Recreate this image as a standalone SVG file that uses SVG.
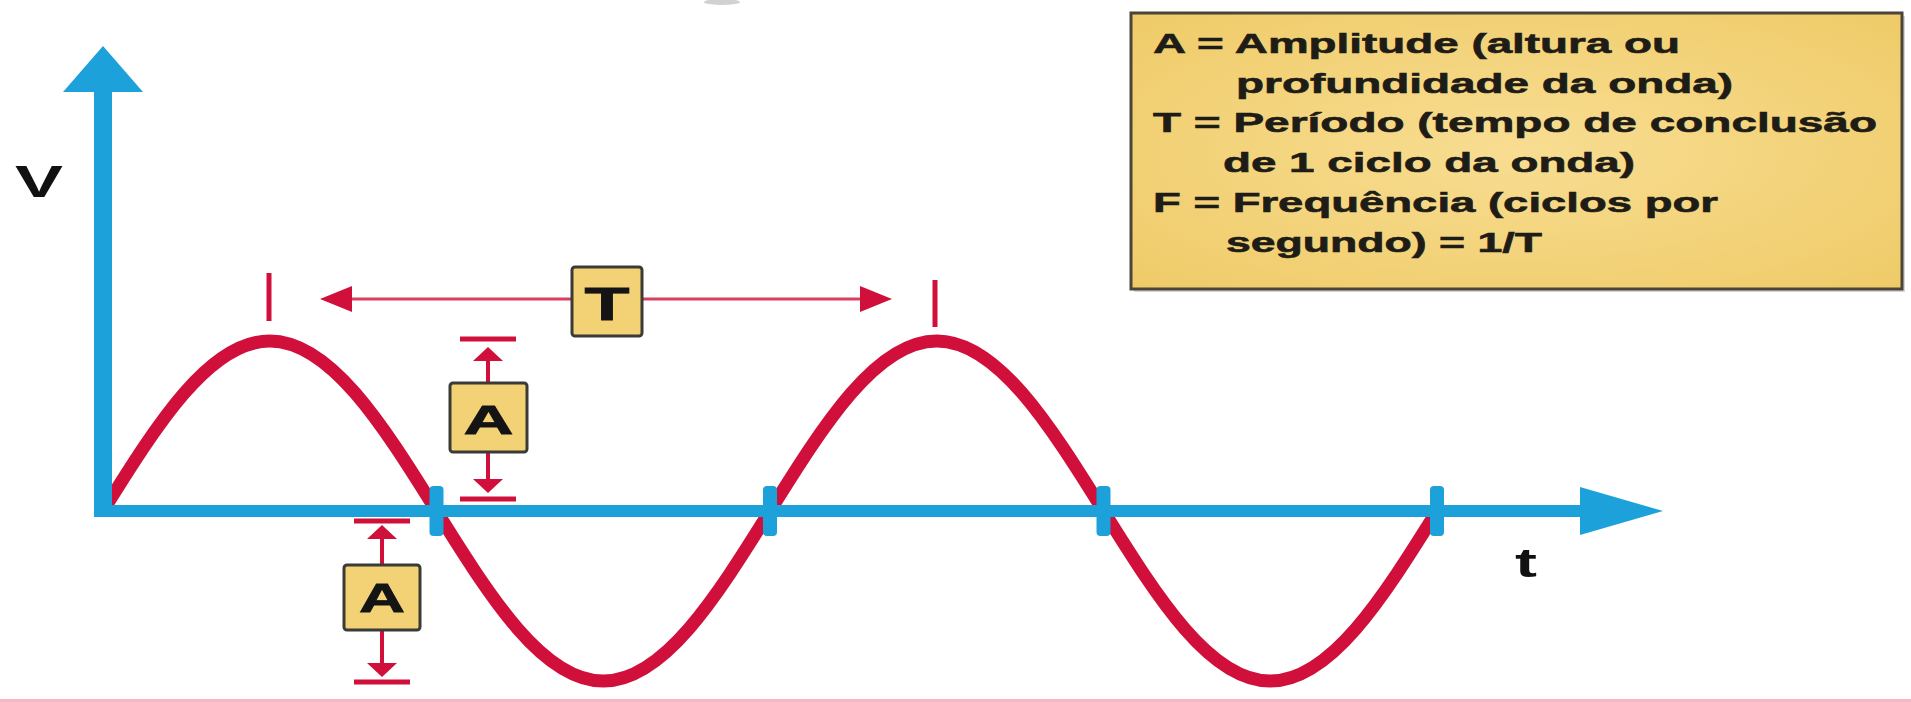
<svg xmlns="http://www.w3.org/2000/svg" width="1911" height="702" viewBox="0 0 1911 702">
  <defs>
    <style>
      .axis { stroke: #1da1db; fill: none; }
      .axisHead { fill: #1da1db; }
      .tickB { fill: #1da1db; }
      .wave { stroke: #d0103a; stroke-width: 13; fill: none; }
      .dim { stroke: #d0103a; stroke-width: 4; fill: none; }
      .bar { stroke: #d0103a; stroke-width: 5; }
      .tline { stroke: #d94060; stroke-width: 3; fill: none; }
      .lbox { fill: #f2d275; stroke: #3a3a36; stroke-width: 3; }
      .lbl { font-family: "Liberation Sans", Arial, sans-serif; font-weight: bold; fill: #141414; text-anchor: middle; stroke: #141414; stroke-width: 0.8; }
      .leg { font-family: "Liberation Sans", Arial, sans-serif; font-weight: bold; font-size: 28px; fill: #1e1c16; stroke: #1e1c16; stroke-width: 0.6; }
      .ax { font-family: "Liberation Sans", Arial, sans-serif; font-weight: bold; fill: #111; }
    </style>
    <marker id="ahV" viewBox="0 -15 14 30" refX="9" refY="0" markerWidth="14" markerHeight="30" markerUnits="userSpaceOnUse" orient="auto">
      <path d="M0,-15 L14,0 L0,15 z" fill="#d0103a"/>
    </marker>
    <marker id="ahT" viewBox="0 -13 32 26" refX="26" refY="0" markerWidth="32" markerHeight="26" markerUnits="userSpaceOnUse" orient="auto">
      <path d="M0,-13 L32,0 L0,13 z" fill="#d0103a"/>
    </marker>
    <radialGradient id="legFill" cx="0.5" cy="0.5" r="0.7">
      <stop offset="0" stop-color="#f8dd92"/>
      <stop offset="1" stop-color="#efcb68"/>
    </radialGradient>
  </defs>

  <rect x="0" y="0" width="1911" height="702" fill="#ffffff"/>
  <rect x="0" y="699" width="1911" height="3" fill="#f6b6c6"/>
  <ellipse cx="722" cy="2" rx="18" ry="3" fill="#9a9a9a" opacity="0.45"/>

  <g id="wave">
    <path class="wave" d="M103,511 C157.38,423.91 209.41,341 269.75,341 C330.09,341 382.12,423.91 436.5,511 C490.88,598.09 542.91,681 603.25,681 C663.59,681 715.62,598.09 770,511 C824.38,423.91 876.41,341 936.75,341 C997.09,341 1049.12,423.91 1103.5,511 C1157.88,598.09 1209.91,681 1270.25,681 C1330.59,681 1382.62,598.09 1437,511"/>
  </g>

  <g id="axes">
    <line class="axis" x1="103" y1="517" x2="103" y2="88" stroke-width="18"/>
    <polygon class="axisHead" points="103,46 143,92 63,92"/>
    <line class="axis" x1="94" y1="511" x2="1582" y2="511" stroke-width="12"/>
    <polygon class="axisHead" points="1663,511 1580,487 1580,535"/>
    <rect class="tickB" x="429.5" y="486" width="14" height="50" rx="4"/>
    <rect class="tickB" x="763" y="486" width="14" height="50" rx="4"/>
    <rect class="tickB" x="1096.5" y="486" width="14" height="50" rx="4"/>
    <rect class="tickB" x="1430" y="486" width="14" height="50" rx="4"/>
    <text class="ax" x="15" y="197" font-size="44" textLength="48" lengthAdjust="spacingAndGlyphs">V</text>
    <text class="ax" x="1515" y="577" font-size="40" textLength="22" lengthAdjust="spacingAndGlyphs">t</text>
  </g>

  <g id="connectors">
    <line class="bar" x1="269" y1="273" x2="269" y2="321"/>
    <line class="bar" x1="935" y1="280" x2="935" y2="327"/>
    <line class="tline" x1="572" y1="299" x2="326" y2="299" marker-end="url(#ahT)"/>
    <line class="tline" x1="642" y1="299" x2="886" y2="299" marker-end="url(#ahT)"/>
    <line class="bar" x1="460" y1="339" x2="516" y2="339"/>
    <line class="dim" x1="488" y1="383" x2="488" y2="352" marker-end="url(#ahV)"/>
    <line class="dim" x1="488" y1="452" x2="488" y2="488" marker-end="url(#ahV)"/>
    <line class="bar" x1="460" y1="499" x2="516" y2="499"/>
    <line class="bar" x1="354" y1="521" x2="410" y2="521"/>
    <line class="dim" x1="382" y1="565" x2="382" y2="530" marker-end="url(#ahV)"/>
    <line class="dim" x1="382" y1="630" x2="382" y2="672" marker-end="url(#ahV)"/>
    <line class="bar" x1="354" y1="682" x2="410" y2="682"/>
  </g>

  <g id="label-T">
    <rect class="lbox" x="572" y="267" width="70" height="69" rx="3"/>
    <text class="lbl" x="607" y="320" font-size="46" textLength="45" lengthAdjust="spacingAndGlyphs">T</text>
  </g>

  <g id="label-A-upper">
    <rect class="lbox" x="450" y="383" width="77" height="69" rx="3"/>
    <text class="lbl" x="488.5" y="434" font-size="40" textLength="50" lengthAdjust="spacingAndGlyphs">A</text>
  </g>

  <g id="label-A-lower">
    <rect class="lbox" x="344" y="565" width="76" height="65" rx="3"/>
    <text class="lbl" x="382" y="612" font-size="40" textLength="46" lengthAdjust="spacingAndGlyphs">A</text>
  </g>

  <g id="legend">
    <rect x="1134" y="16" width="771" height="276" fill="#777" opacity="0.3"/>
    <rect x="1131" y="13" width="771" height="276" fill="url(#legFill)" stroke="#4a4538" stroke-width="3"/>
    <text class="leg" x="1153" y="53" textLength="527" lengthAdjust="spacingAndGlyphs">A = Amplitude (altura ou</text>
    <text class="leg" x="1236" y="93" textLength="497" lengthAdjust="spacingAndGlyphs">profundidade da onda)</text>
    <text class="leg" x="1153" y="132" textLength="724" lengthAdjust="spacingAndGlyphs">T = Período (tempo de conclusão</text>
    <text class="leg" x="1223" y="172" textLength="412" lengthAdjust="spacingAndGlyphs">de 1 ciclo da onda)</text>
    <text class="leg" x="1153" y="212" textLength="565" lengthAdjust="spacingAndGlyphs">F = Frequência (ciclos por</text>
    <text class="leg" x="1226" y="252" textLength="316" lengthAdjust="spacingAndGlyphs">segundo) = 1/T</text>
  </g>
</svg>
